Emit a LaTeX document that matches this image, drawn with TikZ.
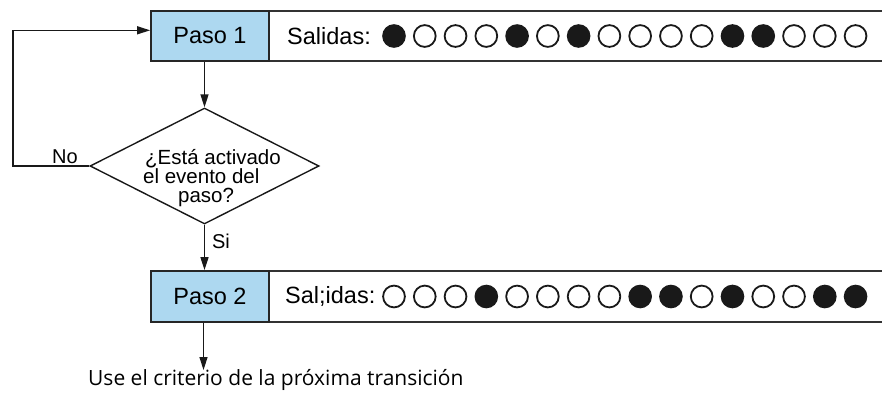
\documentclass[tikz,border=0pt]{standalone}
\usepackage{fontspec}
\setmainfont{Liberation Sans}
\newfontfamily\bottomfont{Open Sans}
\usetikzlibrary{arrows.meta,shapes.geometric,calc}
\definecolor{stepblue}{RGB}{173,216,240}
\tikzset{
  stepbox/.style={draw=black!85, line width=1.8pt, fill=stepblue, minimum width=118pt, minimum height=50pt, inner sep=0pt, font=\fontsize{23.5}{27}\selectfont},
  panelline/.style={draw=black!80, line width=1.8pt},
  conn/.style={draw=black!90, line width=1.4pt},
  arr/.style={conn, -{Triangle[width=8pt,length=13pt]}},
  lbl/.style={inner sep=0pt, font=\fontsize{20}{22}\selectfont},
  paneltext/.style={anchor=west, inner sep=0pt, font=\fontsize{23.5}{27}\selectfont},
  dec/.style={draw=black!90, line width=1.4pt, shape=diamond, minimum width=229pt, minimum height=116pt, inner sep=0pt},
  dtext/.style={anchor=base west, inner sep=0pt, font=\fontsize{20.5}{19}\selectfont},
  lampon/.style={fill=black!90, draw=black!90, line width=1.8pt},
  lampoff/.style={fill=white, draw=black!90, line width=1.8pt}
}
\begin{document}
\begin{tikzpicture}[x=1pt,y=-1pt]
\useasboundingbox (0,0) rectangle (882,397);
% panels
\draw[panelline] (269,11) -- (882,11);
\draw[panelline] (269,61) -- (882,61);
\draw[panelline] (269,271) -- (882,271);
\draw[panelline] (269,322) -- (882,322);
% step boxes
\node[stepbox] (p1) at (210,36) {Paso 1};
\node[stepbox, minimum height=51pt] (p2) at (210,296.5) {Paso 2};
\node[paneltext] (s1) at (287,36) {Salidas:};
\node[paneltext] (s2) at (285,296.5) {Sal;idas:};
% outputs
\foreach \v [count=\i from 0] in {1,0,0,0,1,0,1,0,0,0,0,1,1,0,0,0} {
  \ifnum\v=1 \draw[lampon] (394+30.77*\i,36) circle (10.9);
  \else \draw[lampoff] (394+30.77*\i,36) circle (10.9); \fi
}
\foreach \v [count=\i from 0] in {0,0,0,1,0,0,0,0,1,1,0,1,0,0,1,1} {
  \ifnum\v=1 \draw[lampon] (394+30.77*\i,296.5) circle (10.9);
  \else \draw[lampoff] (394+30.77*\i,296.5) circle (10.9); \fi
}
% decision
\node[dec] (dia) at (204.5,166) {};
\node[dtext] (d1) at (145,164) {¿Está activado};
\node[dtext] (d2) at (143,183) {el evento del};
\node[dtext] (d3) at (178,202) {paso?};
% connectors
\draw[arr] (dia.north |- p1.south) -- (dia.north);
\coordinate (loopL) at (13,0);
\draw[arr] (dia.west) -- (dia.west -| loopL) -- ([yshift=5.7pt]p1.west -| loopL) -- ([yshift=5.7pt]p1.west);
\node[lbl] (no) at (65,157) {No};
\draw[arr] (dia.south) -- (dia.south |- p2.north);
\node[lbl] (si) at (221,241) {Si};
\coordinate (end) at (203.5,370);
\draw[arr] (end |- p2.south) -- (end);
\node[anchor=base west, inner sep=0pt, font=\bottomfont\fontsize{21}{24}\selectfont] (txt) at (88,385) {Use el criterio de la próxima transición};
\end{tikzpicture}
\end{document}
